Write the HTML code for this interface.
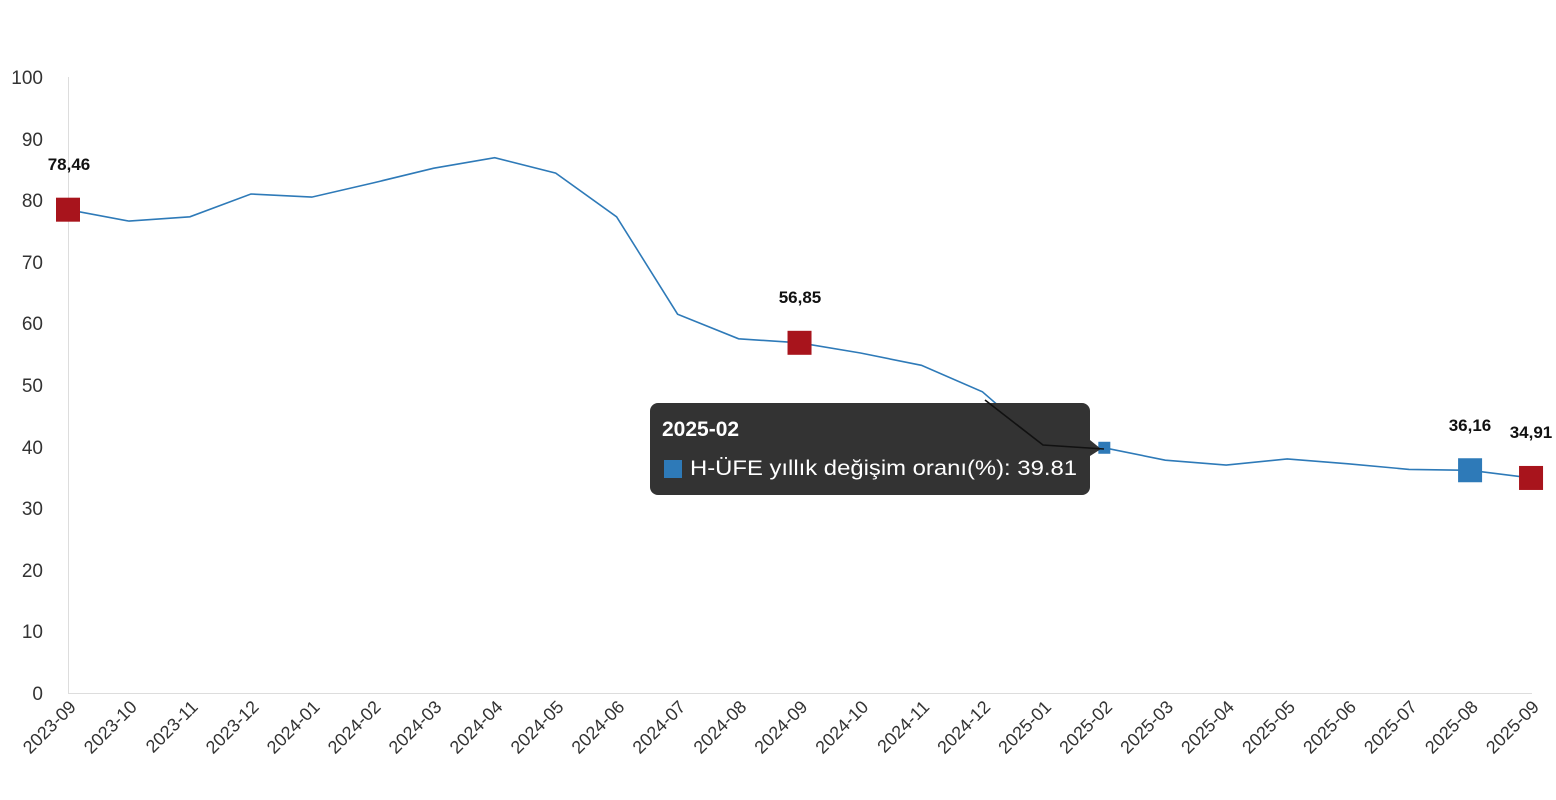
<!DOCTYPE html>
<html><head><meta charset="utf-8"><style>
body{margin:0;background:#fff;}
svg{display:block;font-family:"Liberation Sans",sans-serif;}
</style></head><body>
<svg width="1556" height="800" viewBox="0 0 1556 800">
<line x1="68.5" y1="77" x2="68.5" y2="694" stroke="#ddd"/>
<line x1="68" y1="693.5" x2="1532" y2="693.5" stroke="#ddd"/>
<g font-size="19" fill="#333" text-anchor="end">
<text x="43" y="700">0</text><text x="43" y="638">10</text><text x="43" y="577">20</text>
<text x="43" y="515">30</text><text x="43" y="454">40</text><text x="43" y="392">50</text>
<text x="43" y="330">60</text><text x="43" y="269">70</text><text x="43" y="207">80</text>
<text x="43" y="146">90</text><text x="43" y="84">100</text>
</g>
<g id="xl" font-size="18" fill="#333" text-anchor="end"></g>
<polyline id="ln" fill="none" stroke="#2e7ab8" stroke-width="1.6"/>
<g id="mk"></g>
<g font-size="17" font-weight="bold" fill="#111" text-anchor="middle">
<text x="69" y="170">78,46</text><text x="800" y="303">56,85</text>
<text x="1470" y="431">36,16</text><text x="1531" y="438">34,91</text>
</g>
<rect x="650" y="403" width="440" height="92" rx="8" fill="#333"/>
<polygon points="1090,440 1101,449 1090,456" fill="#333"/>
<polyline points="985,400 1043,445 1104,449" fill="none" stroke="#111" stroke-width="1.6"/>
<text x="662" y="436" font-size="21" font-weight="bold" fill="#fff">2025-02</text>
<rect x="664" y="460" width="18" height="18" fill="#2e7ab8"/>
<text x="690" y="475" font-size="21" fill="#fff" textLength="387" lengthAdjust="spacingAndGlyphs">H-ÜFE yıllık değişim oranı(%): 39.81</text>
</svg>
<script>
var vals=[78.46,76.6,77.3,81,80.5,82.8,85.2,86.9,84.4,77.3,61.5,57.5,56.85,55.2,53.2,48.9,40.3,39.81,37.8,37.0,38.0,37.2,36.3,36.16,34.91];
var y0=693,sc=6.16,x0=68,dx=60.96,pts=[],xl='';
for(var i=0;i<25;i++){var m=(9+i-1)%12+1,yr=2023+Math.floor((8+i)/12);
var x=x0+i*dx,y=y0-vals[i]*sc;pts.push(x.toFixed(1)+','+y.toFixed(1));
xl+='<text transform="translate('+(x+9)+',708) rotate(-45)">'+yr+'-'+(m<10?'0':'')+m+'</text>';}
document.getElementById('xl').innerHTML=xl;
document.getElementById('ln').setAttribute('points',pts.join(' '));
function sq(i,s,c){var x=x0+i*dx,y=y0-vals[i]*sc;return '<rect x="'+(x-s/2)+'" y="'+(y-s/2)+'" width="'+s+'" height="'+s+'" fill="'+c+'"/>';}
document.getElementById('mk').innerHTML=sq(0,24,'#a8141c')+sq(12,24,'#a8141c')+sq(24,24,'#a8141c')+sq(23,24,'#2e7ab8')+sq(17,12,'#2e7ab8');
</script>
</body></html>
